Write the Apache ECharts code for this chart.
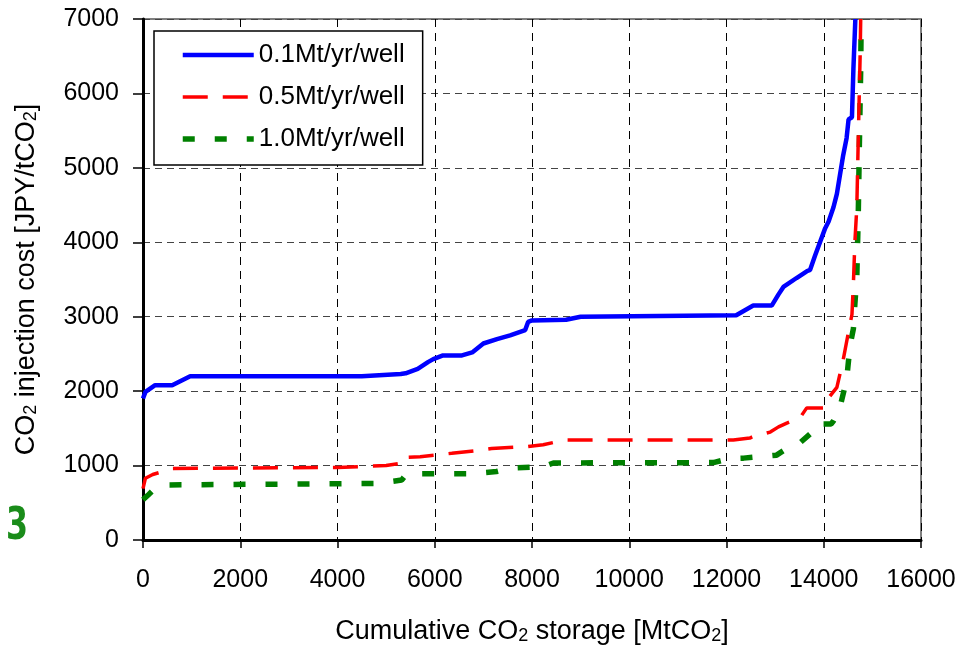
<!DOCTYPE html>
<html>
<head>
<meta charset="utf-8">
<script src="https://cdn.jsdelivr.net/npm/echarts@6/dist/echarts.min.js"></script>
<style>
  html, body { margin: 0; padding: 0; background: #fff; }
  #chart { width: 962px; height: 646px; }
</style>
</head>
<body>
<div id="chart"></div>
<script>
// Cumulative storage [MtCO2] and injection cost [JPY/tCO2] for each injection rate
const rate01X = [0, 50, 250, 600, 970, 4500, 5300, 5400, 5650, 5860, 5970, 6170, 6560, 6770, 7000, 7280, 7550, 7860, 7920, 8000, 8700, 9000, 12200, 12550, 12930, 13070, 13170, 13440, 13650, 13720, 13820, 14030, 14100, 14200, 14270, 14400, 14470, 14510, 14580, 14610, 14650];
const rate01Y = [1900, 1990, 2080, 2080, 2200, 2200, 2230, 2240, 2300, 2390, 2430, 2480, 2480, 2520, 2640, 2700, 2750, 2820, 2930, 2950, 2960, 3000, 3020, 3150, 3150, 3300, 3400, 3520, 3610, 3630, 3820, 4190, 4280, 4470, 4650, 5170, 5400, 5650, 5680, 6330, 7000];

const rate05X = [0, 50, 200, 600, 4000, 5000, 5300, 5350, 5700, 6350, 6970, 7170, 7890, 8230, 8510, 8710, 12140, 12480, 12550, 12900, 13070, 13240, 13510, 13650, 14030, 14100, 14270, 14400, 14510, 14580, 14610, 14640, 14680, 14710, 14750, 14760];
const rate05Y = [690, 830, 880, 960, 975, 1000, 1030, 1110, 1120, 1165, 1210, 1230, 1255, 1280, 1320, 1345, 1345, 1370, 1390, 1450, 1520, 1570, 1640, 1775, 1775, 1910, 2050, 2420, 2800, 3030, 3450, 4000, 4470, 5400, 6560, 7000];

const rate10X = [0, 100, 280, 420, 4800, 5320, 5420, 6280, 6720, 7270, 7550, 8230, 8440, 11730, 12070, 12350, 13030, 13100, 13270, 13510, 13720, 13820, 14150, 14200, 14330, 14470, 14540, 14610, 14640, 14680, 14710, 14730, 14760, 14770];
const rate10Y = [540, 600, 715, 740, 760, 805, 890, 890, 890, 920, 965, 985, 1035, 1040, 1095, 1100, 1140, 1170, 1240, 1305, 1425, 1560, 1560, 1600, 1775, 2150, 2610, 2840, 3170, 3540, 4380, 5210, 6330, 7000];

const seriesNames = ['0.1Mt/yr/well', '0.5Mt/yr/well', '1.0Mt/yr/well'];
const xTicks = { min: 0, max: 16000, interval: 2000 };
const yTicks = { min: 0, max: 7000, interval: 1000 };

const pairs = (xs, ys) => xs.map((x, i) => [x, ys[i]]);

const font = 'Liberation Sans, Arial, sans-serif';
const nameRich = {
  a: { fontFamily: font, fontSize: 27, color: '#000' },
  s: { fontFamily: font, fontSize: 18, color: '#000', verticalAlign: 'bottom', padding: [9, 0, 0, 0] }
};

const styles = [
  { color: '#0000ff', width: 4.5, type: 'solid' },
  { color: '#ff0000', width: 3.5, type: [25, 15] },
  { color: '#008000', width: 5.5, type: [12, 20] }
];

const chart = echarts.init(document.getElementById('chart'), null, { renderer: 'canvas' });

chart.setOption({
  animation: false,
  backgroundColor: '#ffffff',
  grid: {
    left: 143, right: 41, top: 19, bottom: 106,
    outerBoundsMode: 'none',
    show: true, borderColor: '#808080', borderWidth: 2, backgroundColor: 'transparent'
  },
  legend: {
    orient: 'vertical',
    left: 154, top: 31,
    padding: [11, 18, 13, 26],
    itemWidth: 71, itemHeight: 20, itemGap: 16,
    borderColor: '#000', borderWidth: 1.5,
    backgroundColor: '#fff',
    itemStyle: { opacity: 0 },
    textStyle: { fontFamily: font, fontSize: 26, color: '#000' },
    data: seriesNames.map((name, i) => ({
      name,
      itemStyle: { opacity: 0 },
      lineStyle: { color: styles[i].color, width: styles[i].width, type: styles[i].type }
    }))
  },
  xAxis: {
    type: 'value',
    min: xTicks.min, max: xTicks.max, interval: xTicks.interval,
    name: '{a|Cumulative CO}{s|2}{a| storage [MtCO}{s|2}{a|]}',
    nameLocation: 'middle', nameGap: 78,
    nameTextStyle: { fontFamily: font, color: '#000', rich: nameRich },
    axisLine: { show: true, lineStyle: { color: '#000', width: 3 } },
    axisTick: { show: true, inside: false, length: 8, lineStyle: { color: '#000', width: 1.5 } },
    axisLabel: { fontFamily: font, fontSize: 25, color: '#000', margin: 28, formatter: v => String(v) },
    splitLine: { show: true, lineStyle: { color: '#000', type: [8, 6], width: 1 } }
  },
  yAxis: {
    type: 'value',
    min: yTicks.min, max: yTicks.max, interval: yTicks.interval,
    name: '{a|CO}{s|2}{a| injection cost [JPY/tCO}{s|2}{a|]}',
    nameLocation: 'middle', nameGap: 103, nameRotate: 90,
    nameTextStyle: { fontFamily: font, color: '#000', rich: nameRich },
    axisLine: { show: true, lineStyle: { color: '#000', width: 3 } },
    axisTick: { show: true, length: 10, lineStyle: { color: '#000', width: 1.5 } },
    axisLabel: { fontFamily: font, fontSize: 25, color: '#000', margin: 24, formatter: v => String(v) },
    splitLine: { show: true, lineStyle: { color: '#444', type: [7, 5], width: 1 } }
  },
  series: [
    {
      name: seriesNames[0], type: 'line', symbol: 'none', clip: true, z: 4,
      data: pairs(rate01X, rate01Y),
      lineStyle: styles[0], itemStyle: { color: styles[0].color }
    },
    {
      name: seriesNames[1], type: 'line', symbol: 'none', clip: true, z: 3,
      data: pairs(rate05X, rate05Y),
      lineStyle: styles[1], itemStyle: { color: styles[1].color }
    },
    {
      name: seriesNames[2], type: 'line', symbol: 'none', clip: true, z: 2,
      data: pairs(rate10X, rate10Y),
      lineStyle: styles[2], itemStyle: { color: styles[2].color }
    }
  ],
  graphic: [
    {
      type: 'text', x: 6, y: 506, scaleX: 0.72,
      style: {
        text: '3', fill: '#1a8c1a',
        font: 'bold 44px "DejaVu Sans", sans-serif'
      }
    }
  ]
});
</script>
</body>
</html>
